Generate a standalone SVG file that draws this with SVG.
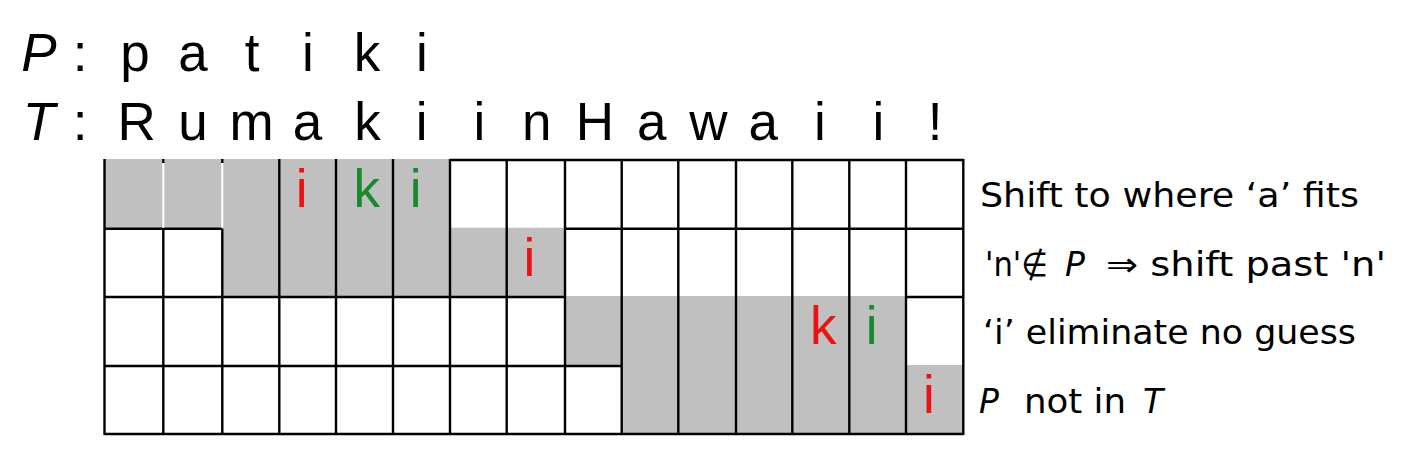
<svg xmlns="http://www.w3.org/2000/svg" width="1420" height="468" viewBox="0 0 1420 468">
<style>
.big{font-family:"Liberation Sans",Arial,sans-serif;font-size:53px;fill:#000;text-anchor:middle}
.it{font-style:italic}
.cell{font-family:"Liberation Sans",Arial,sans-serif;font-size:53px;text-anchor:middle}
.red{fill:#ee1111}
.grn{fill:#168a2c}
.lbl{font-family:"DejaVu Sans","Liberation Sans",sans-serif;font-size:33px;fill:#000}
.gray{fill:#c0c0c0}
.ln{stroke:#000;stroke-width:2.4;fill:none}
.wl{stroke:#fff;stroke-width:2;fill:none}
</style>
<rect width="1420" height="468" fill="#fff"/>
<g id="pattern-line">
<text class="big it" x="39" y="71">P</text>
<text class="big" x="80" y="71">:</text>
<text class="big" x="135" y="71">p</text>
<text class="big" x="193" y="71">a</text>
<text class="big" x="252" y="71">t</text>
<text class="big" x="308" y="71">i</text>
<text class="big" x="367" y="71">k</text>
<text class="big" x="422" y="71">i</text>
</g>
<g id="text-line">
<text class="big it" x="39" y="139.5">T</text>
<text class="big" x="80" y="139.5">:</text>
<text class="big" x="136.7" y="139.5">R</text>
<text class="big" x="193" y="139.5">u</text>
<text class="big" x="251.7" y="139.5">m</text>
<text class="big" x="307.5" y="139.5">a</text>
<text class="big" x="367.5" y="139.5">k</text>
<text class="big" x="421.7" y="139.5">i</text>
<text class="big" x="479.3" y="139.5">i</text>
<text class="big" x="536.7" y="139.5">n</text>
<text class="big" x="595" y="139.5">H</text>
<text class="big" x="651.7" y="139.5">a</text>
<text class="big" x="708.3" y="139.5">w</text>
<text class="big" x="763.3" y="139.5">a</text>
<text class="big" x="820" y="139.5">i</text>
<text class="big" x="878.3" y="139.5">i</text>
<text class="big" x="935" y="139.5">!</text>
</g>
<g id="shading">
<rect class="gray" x="104.5" y="159" width="345.5" height="69.7"/>
<rect class="gray" x="222.3" y="227.7" width="342.7" height="69.3"/>
<rect class="gray" x="565" y="296" width="341" height="70"/>
<rect class="gray" x="621.7" y="365" width="341.6" height="69"/>
</g>
<g id="grid">
<path class="ln" d="M450 160H963.3 M104.5 228.7H222.3 M565 228.7H963.3 M104.5 297H565 M906 297H963.3 M104.5 366H621.7 M104.5 434H963.3"/>
<path class="ln" d="M104.5 159V435 M163.3 228.7V434 M222.3 228.7V434 M279.3 159V434 M336 159V434 M393 159V434 M450 159V434 M506.7 159V434 M565 159V434 M621.7 159V434 M678.3 159V434 M736 159V434 M792.3 159V434 M849.3 159V434 M906 159V434 M963.3 159V435"/>
<path class="wl" d="M163.3 160V227.7 M222.3 163V227.7"/>
<path class="ln" d="M163.3 159V163 M222.3 159V163"/>
</g>
<g id="row1">
<text class="cell red" x="301.7" y="207">i</text>
<text class="cell grn" x="366.7" y="207">k</text>
<text class="cell grn" x="415.7" y="207">i</text>
<text class="lbl" x="980" y="207" textLength="379" lengthAdjust="spacingAndGlyphs">Shift to where ‘a’ fits</text>
</g>
<g id="row2">
<text class="cell red" x="529.3" y="276">i</text>
<text class="lbl" x="985" y="276" textLength="63" lengthAdjust="spacingAndGlyphs">'n'∉</text>
<text class="lbl it" x="1065" y="276">P</text>
<text class="lbl" x="1106" y="276" textLength="280" lengthAdjust="spacingAndGlyphs">⇒ shift past 'n'</text>
</g>
<g id="row3">
<text class="cell red" x="823.3" y="344">k</text>
<text class="cell grn" x="871.7" y="344">i</text>
<text class="lbl" x="983" y="344" textLength="373" lengthAdjust="spacingAndGlyphs">‘i’ eliminate no guess</text>
</g>
<g id="row4">
<text class="cell red" x="929" y="412.5">i</text>
<text class="lbl it" x="979" y="412.5">P</text>
<text class="lbl" x="1024" y="412.5" textLength="102" lengthAdjust="spacingAndGlyphs">not in</text>
<text class="lbl it" x="1143" y="412.5">T</text>
</g>
</svg>
